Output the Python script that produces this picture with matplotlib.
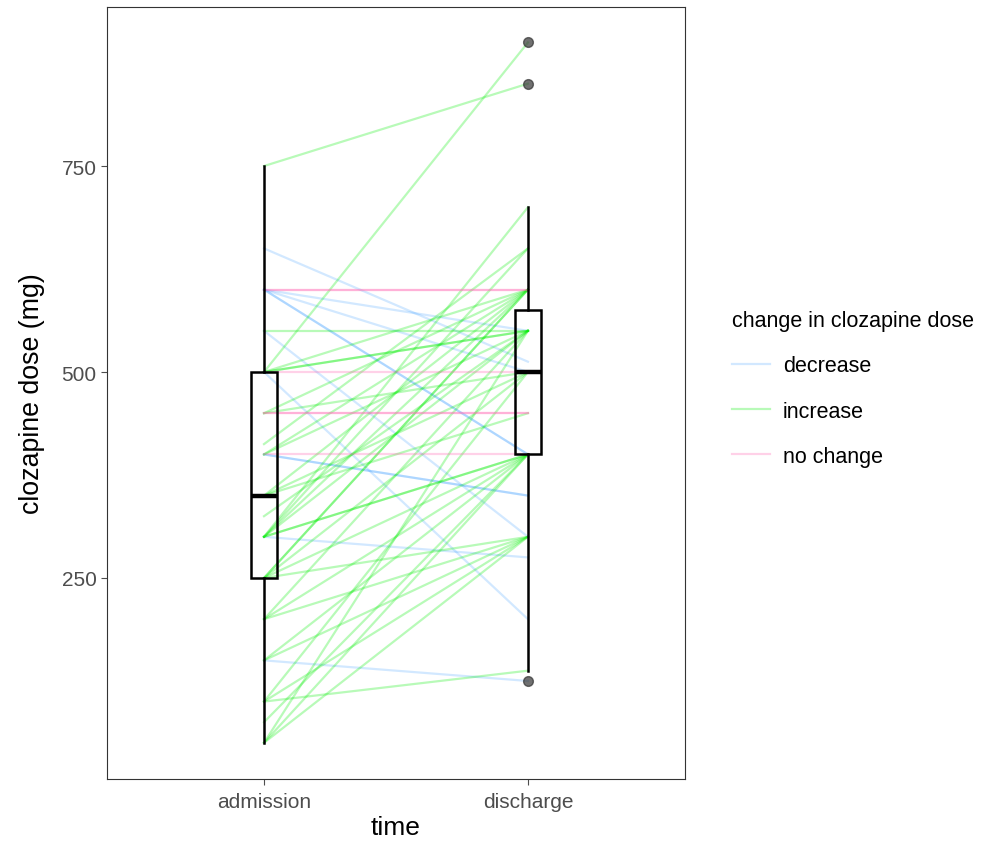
import numpy as np
import matplotlib.pyplot as plt
from matplotlib.lines import Line2D

plt.rcParams['font.family'] = ['Liberation Sans', 'DejaVu Sans']

# paired doses (mg): admission -> discharge
decrease_adm = [650, 600, 600, 600, 600, 550, 500, 400, 400, 300, 150]
decrease_dis = [512.5, 550, 500, 400, 400, 300, 200, 350, 350, 275, 125]

nochange_adm = [600, 600, 500, 450, 450, 400]
nochange_dis = [600, 600, 500, 450, 450, 400]

increase_adm = [750, 500, 500, 500, 500, 450, 450, 412.5, 400, 400, 350, 350,
                350, 325, 300, 300, 300, 300, 300, 300, 250, 250, 250, 250,
                200, 200, 200, 250, 150, 150, 100, 100, 100, 75, 50, 50, 50, 550]
increase_dis = [850, 900, 600, 550, 550, 600, 500, 650, 600, 550, 500, 600,
                450, 550, 700, 650, 600, 550, 400, 400, 600, 500, 400, 300,
                550, 400, 300, 600, 400, 300, 500, 300, 137.5, 400, 550, 400,
                300, 550]

times = ['admission', 'discharge']
groups = [('decrease', decrease_adm, decrease_dis, '#1E90FF', 0.2),
          ('increase', increase_adm, increase_dis, '#00EE00', 0.28),
          ('no change', nochange_adm, nochange_dis, '#FF69B4', 0.3)]

fig = plt.figure(figsize=(9.86, 8.45), dpi=100)
ax = fig.add_axes([0.1085, 0.0769, 0.5862, 0.9136])

for name, a, d, col, al in groups:
    for y0, y1 in zip(a, d):
        ax.plot([1, 2], [y0, y1], color=col, alpha=al, lw=1.6, zorder=2)

adm_all = decrease_adm + nochange_adm + increase_adm
dis_all = decrease_dis + nochange_dis + increase_dis
ax.boxplot([adm_all, dis_all], positions=[1, 2], widths=0.1,
           patch_artist=True, zorder=3,
           boxprops=dict(facecolor='none', edgecolor='black', linewidth=1.8),
           whiskerprops=dict(color='black', linewidth=1.8),
           capprops=dict(linewidth=0),
           medianprops=dict(color='black', linewidth=3.2),
           flierprops=dict(marker='o', markerfacecolor='#333333', markeredgecolor='#333333',
                           alpha=0.7, markersize=7))

ax.set_xlim(0.405, 2.595)
ax.set_ylim(6, 943)
ax.set_xticks([1, 2])
ax.set_xticklabels(times)
ax.set_yticks([250, 500, 750])
ax.tick_params(colors='#4d4d4d', labelsize=15, length=4.5, width=0.8, pad=3)
ax.tick_params(axis='x', pad=5)
for lab in ax.get_xticklabels() + ax.get_yticklabels():
    lab.set_color('#4d4d4d')
for s in ax.spines.values():
    s.set_color('#333333')
    s.set_linewidth(0.8)
ax.set_xlabel('time', fontsize=19, labelpad=3)
ax.set_ylabel('clozapine dose (mg)', fontsize=19.3, labelpad=12)

handles = [Line2D([], [], color=c, alpha=al, lw=1.6) for _, _, _, c, al in groups]
fig.legend(handles, [g[0] for g in groups], title='change in clozapine dose',
           loc='upper left', bbox_to_anchor=(713 / 986, 1 - 292 / 845),
           frameon=False, fontsize=15.5, title_fontsize=15.5, alignment='left',
           handlelength=1.75, labelspacing=1.12, handletextpad=0.6)

fig.savefig('out.png', dpi=100)
